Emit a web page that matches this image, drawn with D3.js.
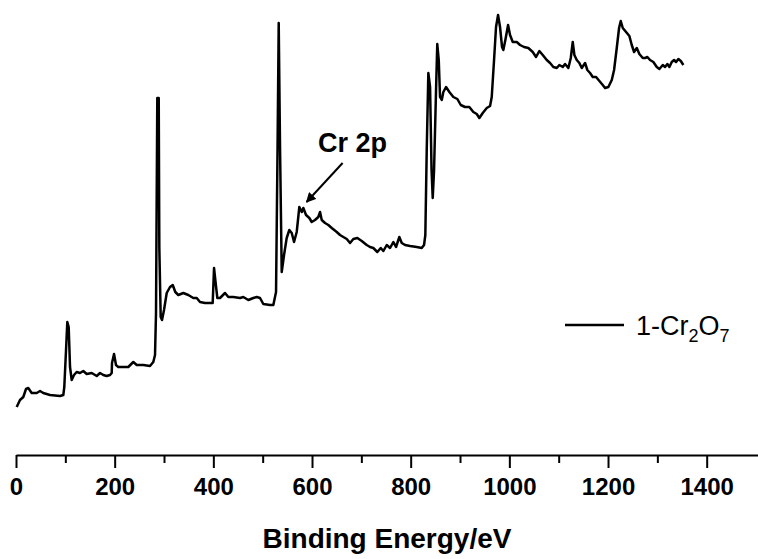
<!DOCTYPE html>
<html><head><meta charset="utf-8">
<script src="https://cdn.jsdelivr.net/npm/d3@7"></script>
<style>body{margin:0;background:#fff}svg{display:block}</style>
</head><body>
<svg id="chart" width="758" height="559"></svg>
<script>
// Binding energy (eV) and intensity (a.u.)
const bindingEnergy = [1.4,8.1,14.8,20.3,24.9,31.8,42.0,48.7,55.3,68.9,89.2,95.9,97.9,101.4,104.0,106.8,109.5,112.9,117.6,123.0,129.7,136.4,143.3,153.5,163.6,170.3,177.0,183.8,190.6,194.0,194.6,198.7,202.7,207.4,217.5,227.6,237.8,244.7,258.1,271.6,278.3,281.8,283.8,286.4,289.3,290.5,293.3,296.0,300.0,305.5,312.2,317.7,322.9,329.0,339.1,349.3,359.4,366.3,373.0,383.1,393.3,398.7,401.4,404.0,408.1,413.5,423.7,430.4,440.5,454.1,460.8,470.9,481.1,488.0,494.6,501.3,514.9,521.6,527.1,530.1,532.5,535.2,538.6,543.3,548.7,554.0,558.9,563.6,569.0,574.3,579.2,582.4,587.9,594.6,599.4,606.1,612.8,616.3,619.7,626.4,633.1,640.0,650.1,656.8,663.5,670.4,677.1,683.8,691.9,700.8,710.9,717.6,724.3,732.4,739.3,744.6,751.5,758.2,764.9,770.3,777.0,781.9,788.6,798.7,812.3,822.4,827.1,829.7,832.6,835.8,839.3,842.3,844.7,847.4,851.4,853.9,856.9,859.5,863.0,866.2,871.7,878.4,886.5,894.6,901.5,910.2,918.9,927.0,933.9,939.2,946.1,954.2,960.9,964.3,969.0,973.0,977.1,981.1,985.2,987.8,991.9,997.4,1001.4,1006.9,1015.0,1021.7,1029.8,1038.5,1047.4,1054.1,1060.8,1067.7,1075.8,1082.5,1089.2,1096.1,1101.4,1108.3,1112.9,1119.6,1124.5,1128.5,1131.8,1136.6,1141.9,1146.8,1153.5,1158.1,1163.6,1169.1,1175.8,1182.5,1189.3,1194.0,1200.7,1207.6,1212.3,1217.7,1222.4,1225.8,1229.9,1236.6,1243.3,1248.1,1252.8,1258.3,1263.5,1270.4,1275.1,1279.8,1285.2,1291.9,1298.8,1304.1,1311.0,1315.6,1320.3,1324.4,1329.2,1333.9,1338.0,1342.6,1347.5,1352.7];
const intensity = [48,55,58,66,67,62,62,64,62,60,59,60,68,105,133,128,88,75,80,83,82,84,81,82,79,82,80,79,80,82,92,101,90,88,88,88,93,90,90,89,93,100,142,357,357,208,138,135,145,162,168,170,163,160,162,160,157,157,153,152,152,152,187,175,157,157,162,158,158,157,158,155,157,158,157,151,150,150,163,305,432,307,183,200,217,225,222,213,223,248,243,247,240,237,233,235,238,243,235,232,230,227,223,220,218,216,212,216,217,214,210,208,207,203,207,204,210,207,213,208,218,212,210,209,208,207,210,220,307,382,368,285,257,285,365,411,395,358,355,363,368,363,358,356,350,348,348,343,341,337,342,347,349,358,395,428,440,428,408,405,415,430,420,413,413,410,408,407,403,398,404,400,395,392,388,387,390,388,391,387,397,413,400,395,392,387,392,385,382,378,378,374,370,367,368,375,385,407,427,434,427,423,419,410,403,407,401,397,397,398,395,393,388,386,390,388,391,388,393,395,393,396,394,390];
const majorTicks = [0,200,400,600,800,1000,1200,1400];
const minorTicks = [100,300,500,700,900,1100,1300];
const xLabel = "Binding Energy/eV";
const annotation = {text: "Cr 2p", tipBE: 589, tipI: 253, tailBE: 662, tailI: 292, textBE: 612, textI: 303};

const svg = d3.select("#chart");
const x = d3.scaleLinear().domain([0, 1504]).range([16, 758]);
const y = d3.scaleLinear().domain([0, 455]).range([455, 0]);
const FONT = "Liberation Sans, Arial, sans-serif";

// arrow marker
svg.append("defs").append("marker")
  .attr("id","arr").attr("viewBox","0 0 10 10").attr("refX",9).attr("refY",5)
  .attr("markerWidth",5).attr("markerHeight",5).attr("orient","auto")
  .append("path").attr("d","M0,0 L10,5 L0,10 Z").attr("fill","#000");

// spectrum
const pts = bindingEnergy.map((b,i)=>[b,intensity[i]]);
svg.append("path").datum(pts)
  .attr("fill","none").attr("stroke","#000").attr("stroke-width",2.5)
  .attr("stroke-linejoin","round")
  .attr("d", d3.line().x(d=>x(d[0])).y(d=>y(d[1])));

// minor ticks
svg.append("g").attr("transform","translate(0,455)")
  .call(d3.axisBottom(x).tickValues(minorTicks).tickSize(8).tickSizeOuter(0).tickFormat(""))
  .call(g=>g.select(".domain").remove())
  .call(g=>g.selectAll("line").attr("stroke-width",2));

// major axis
const ax = svg.append("g").attr("transform","translate(0,455)")
  .call(d3.axisBottom(x).tickValues(majorTicks).tickSize(13).tickSizeOuter(0).tickPadding(10).tickFormat(d3.format("d")));
ax.select(".domain").attr("stroke-width",2.2);
ax.selectAll(".tick line").attr("stroke-width",2);
ax.selectAll("text").attr("font-family",FONT)
  .attr("font-weight","bold").attr("font-size",24).attr("fill","#000");

// axis title
svg.append("text").attr("x",387).attr("y",548).attr("text-anchor","middle")
  .attr("font-family",FONT).attr("font-weight","bold")
  .attr("font-size",28).text(xLabel);

// annotation
svg.append("line")
  .attr("x1",x(annotation.tailBE)).attr("y1",y(annotation.tailI))
  .attr("x2",x(annotation.tipBE)).attr("y2",y(annotation.tipI))
  .attr("stroke","#000").attr("stroke-width",2).attr("marker-end","url(#arr)");
svg.append("text").attr("x",x(annotation.textBE)).attr("y",y(annotation.textI))
  .attr("font-family",FONT).attr("font-weight","bold")
  .attr("font-size",27).text(annotation.text);

// legend
const lg = svg.append("g");
lg.append("line").attr("x1",565).attr("x2",624).attr("y1",325).attr("y2",325)
  .attr("stroke","#000").attr("stroke-width",2.6);
const lt = lg.append("text").attr("x",636).attr("y",335)
  .attr("font-family",FONT).attr("font-size",27);
lt.append("tspan").text("1-Cr");
lt.append("tspan").attr("font-size",18).attr("dy",7).text("2");
lt.append("tspan").attr("dy",-7).text("O");
lt.append("tspan").attr("font-size",18).attr("dy",7).text("7");
</script>
</body></html>
